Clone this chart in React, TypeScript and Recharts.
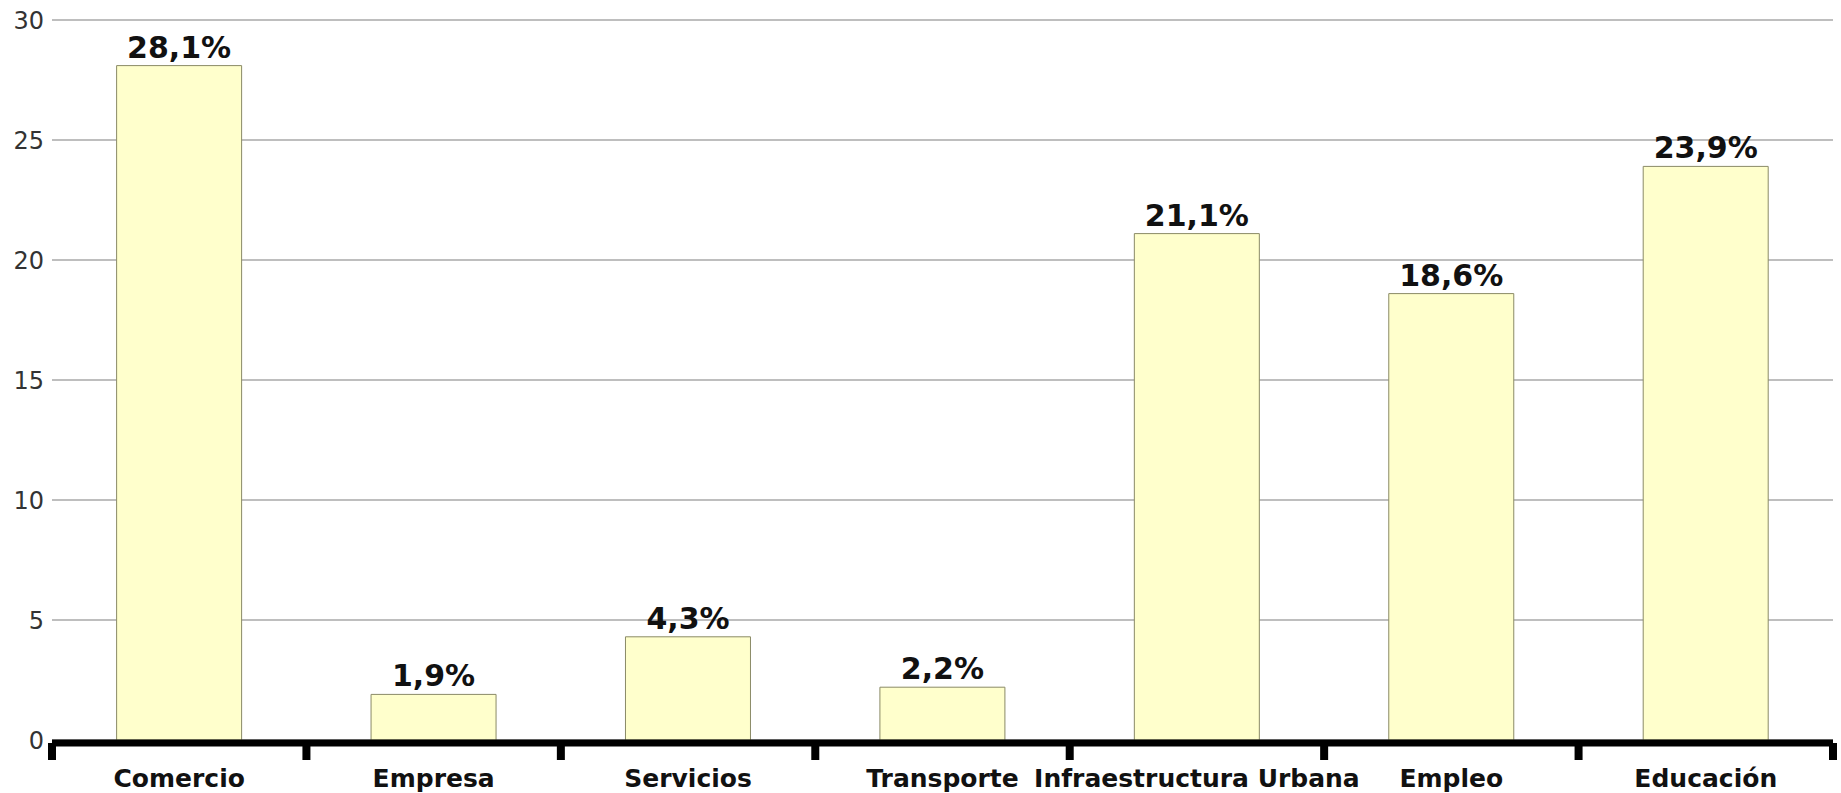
import { Bar, BarChart, CartesianGrid, LabelList, XAxis, YAxis } from "recharts";

const categories = [
  "Comercio",
  "Empresa",
  "Servicios",
  "Transporte",
  "Infraestructura Urbana",
  "Empleo",
  "Educación",
];
const values = [28.1, 1.9, 4.3, 2.2, 21.1, 18.6, 23.9];
const yTicks = [0, 5, 10, 15, 20, 25, 30];

const data = categories.map((name, i) => ({ name, value: values[i] }));

const font = "'DejaVu Sans', Verdana, sans-serif";

// category label plus a tick mark on the band edges (the last band also gets its right edge)
function CategoryTick(props: any) {
  const { x, y, payload, index, width, visibleTicksCount } = props;
  const half = width / visibleTicksCount / 2;
  return (
    <g>
      <rect x={x - half - 4} y={y + 3} width={8} height={17} fill="#000" />
      {index === visibleTicksCount - 1 && (
        <rect x={x + half - 4} y={y + 3} width={8} height={17} fill="#000" />
      )}
      <text
        x={x}
        y={y + 47}
        textAnchor="middle"
        fontFamily={font}
        fontSize={25}
        fontWeight="bold"
        fill="#111"
      >
        {payload.value}
      </text>
    </g>
  );
}

export default function App() {
  return (
    <div style={{ position: "absolute", left: 0, top: 0, background: "#fff" }}>
      <BarChart
        width={1841}
        height={793}
        data={data}
        margin={{ top: 20, right: 8, left: 0, bottom: 0 }}
        barCategoryGap="25.4%"
      >
        <CartesianGrid vertical={false} stroke="#a8a8a8" strokeWidth={1.5} />
        <XAxis
          dataKey="name"
          interval={0}
          height={53}
          tickSize={0}
          tickMargin={0}
          tickLine={false}
          axisLine={{ stroke: "#000", strokeWidth: 7, transform: "translate(0,3)" }}
          tick={<CategoryTick />}
        />
        <YAxis
          domain={[0, 30]}
          ticks={yTicks}
          width={52}
          axisLine={false}
          tickLine={false}
          tickSize={0}
          tickMargin={8}
          tick={{ fontFamily: font, fontSize: 24, fill: "#333" }}
        />
        <Bar
          dataKey="value"
          fill="#ffffcc"
          stroke="#8a8a66"
          strokeWidth={1}
          isAnimationActive={false}
        >
          <LabelList
            dataKey="value"
            position="top"
            offset={8}
            formatter={(v: any) => `${String(v).replace(".", ",")}%`}
            style={{ fontFamily: font, fontSize: 30, fontWeight: "bold", fill: "#111" }}
          />
        </Bar>
      </BarChart>
    </div>
  );
}
